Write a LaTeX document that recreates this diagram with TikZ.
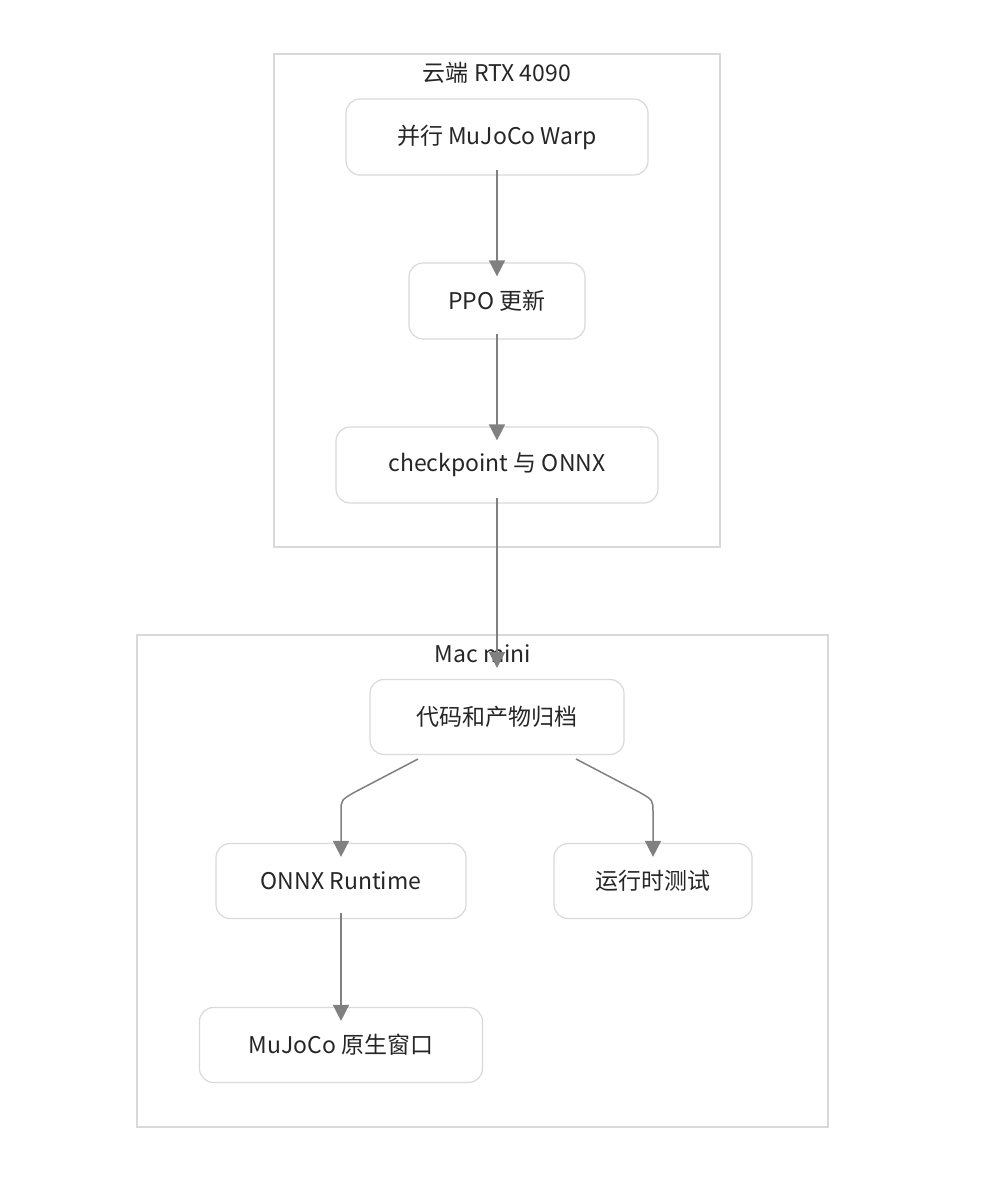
\documentclass[tikz,border=0pt]{standalone}
\usepackage{fontspec}
\setmainfont{Noto Sans CJK SC}
\usetikzlibrary{arrows.meta}
\begin{document}
\begin{tikzpicture}[x=1pt,y=-1pt,
  box/.style={draw=black!15,line width=1.2pt,rounded corners=14pt,fill=white,font=\fontsize{23}{28}\selectfont,text=black!85},
  clu/.style={draw=black!15,line width=1.2pt},
  lab/.style={font=\fontsize{23}{28}\selectfont,text=black!85},
  arr/.style={draw=black!50,line width=1.5pt,-{Triangle[width=16pt,length=16pt]}}]
\useasboundingbox (0,0) rectangle (983,1200);
\draw[clu] (274,54) rectangle (720,547);
\node[lab] (t1) at (497,73) {云端 RTX 4090};
\draw[clu] (137,635) rectangle (828,1127);
\node[lab] (t2) at (483,654) {Mac mini};
\node[box,minimum width=302pt,minimum height=76pt] (a) at (497,137) {并行 MuJoCo Warp};
\node[box,minimum width=176pt,minimum height=76pt] (b) at (497,301) {PPO 更新};
\node[box,minimum width=322pt,minimum height=76pt] (c) at (497,465) {checkpoint 与 ONNX};
\node[box,minimum width=254pt,minimum height=75pt] (d) at (497,717) {代码和产物归档};
\node[box,minimum width=250pt,minimum height=75pt] (e) at (341,881) {ONNX Runtime};
\node[box,minimum width=198pt,minimum height=75pt] (f) at (653,881) {运行时测试};
\node[box,minimum width=283pt,minimum height=75pt] (g) at (341,1045) {MuJoCo 原生窗口};
\coordinate (ce) at (497,668);
\draw[arr] ([yshift=6pt]a.south) -- ([yshift=-14pt]b.north);
\draw[arr] ([yshift=6pt]b.south) -- ([yshift=-14pt]c.north);
\draw[arr] ([yshift=6pt]c.south) -- (ce);
\draw[arr] (418,759) -- (355,792) .. controls (341,800) .. (341,812) -- ([yshift=-14pt]e.north);
\draw[arr] (576,759) -- (639,792) .. controls (653,800) .. (653,812) -- ([yshift=-14pt]f.north);
\draw[arr] ([yshift=6pt]e.south) -- ([yshift=-14pt]g.north);
\end{tikzpicture}
\end{document}
